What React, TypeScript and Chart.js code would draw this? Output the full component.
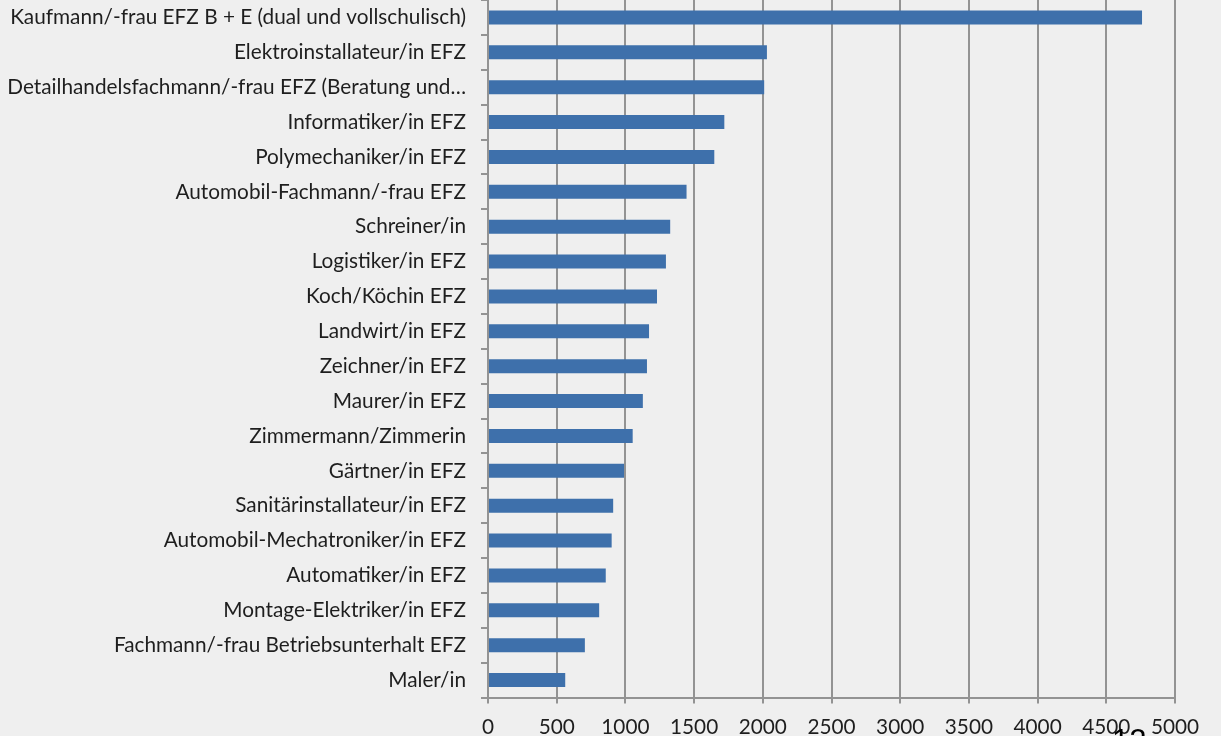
import React, { useEffect, useRef } from "react";
import { Chart, registerables } from "chart.js";

Chart.register(...registerables);

const categories: string[] = [
  "Kaufmann/-frau EFZ B + E (dual und vollschulisch)",
  "Elektroinstallateur/in EFZ",
  "Detailhandelsfachmann/-frau EFZ (Beratung und…",
  "Informatiker/in EFZ",
  "Polymechaniker/in EFZ",
  "Automobil-Fachmann/-frau EFZ",
  "Schreiner/in",
  "Logistiker/in EFZ",
  "Koch/Köchin EFZ",
  "Landwirt/in EFZ",
  "Zeichner/in EFZ",
  "Maurer/in EFZ",
  "Zimmermann/Zimmerin",
  "Gärtner/in EFZ",
  "Sanitärinstallateur/in EFZ",
  "Automobil-Mechatroniker/in EFZ",
  "Automatiker/in EFZ",
  "Montage-Elektriker/in EFZ",
  "Fachmann/-frau Betriebsunterhalt EFZ",
  "Maler/in",
];

const values: number[] = [
  4760, 2030, 2010, 1720, 1647, 1445, 1326, 1295, 1230, 1172, 1157, 1127,
  1053, 990, 911, 900, 857, 809, 705, 562,
];

const xMin = 0;
const xMax = 5000;
const xStep = 500;

const pageMark = "12";

const FONT = "Lato, 'Noto Sans', sans-serif";

function fitFontSize(text: string, target: number): number {
  const c = document.createElement("canvas").getContext("2d");
  if (!c) return 20;
  c.font = `100px ${FONT}`;
  const w = c.measureText(text).width;
  return (100 * target) / w;
}

export default function App() {
  const ref = useRef<HTMLCanvasElement | null>(null);

  useEffect(() => {
    if (!ref.current) return;
    const size = fitFontSize(categories[0], 456);
    const gridColor = "#939393";
    const chart = new Chart(ref.current, {
      type: "bar",
      data: {
        labels: categories,
        datasets: [
          {
            data: values,
            backgroundColor: "#3e70ab",
            borderWidth: 0,
            barPercentage: 0.4,
            categoryPercentage: 1,
          },
        ],
      },
      options: {
        indexAxis: "y",
        animation: false,
        responsive: true,
        maintainAspectRatio: false,
        layout: { padding: { left: 0, right: 46, top: 0, bottom: 0 } },
        plugins: {
          legend: { display: false },
          tooltip: { enabled: false },
        },
        scales: {
          x: {
            min: xMin,
            max: xMax,
            ticks: {
              stepSize: xStep,
              color: "#1e1e1e",
              font: { family: FONT, size: size },
              padding: 11,
              maxRotation: 0,
              callback: (v: any) => String(v),
            },
            grid: {
              color: gridColor,
              lineWidth: 2,
              tickLength: 6,
            },
            border: { color: gridColor, width: 2 },
            afterFit: (s: any) => {
              s.height = 38.5;
            },
          },
          y: {
            ticks: {
              color: "#1e1e1e",
              font: { family: FONT, size: size },
              padding: 15,
              autoSkip: false,
            },
            grid: {
              color: gridColor,
              lineWidth: 2,
              drawOnChartArea: false,
              drawTicks: true,
              tickLength: 7,
            },
            border: { color: gridColor, width: 2 },
            afterFit: (s: any) => {
              s.width = 488;
              s.paddingTop = 0;
              s.paddingBottom = 0;
            },
          },
        },
      },
    });
    return () => chart.destroy();
  }, []);

  return (
    <div
      style={{
        position: "fixed",
        left: 0,
        top: 0,
        width: 1221,
        height: 736,
        overflow: "hidden",
        background: "#efefef",
      }}
    >
      <div style={{ position: "absolute", left: 0, top: 0, width: 1221, height: 736 }}>
        <canvas ref={ref} />
      </div>
      <div
        style={{
          position: "absolute",
          left: 1112,
          top: 725,
          fontFamily: "'Liberation Sans', Arial, sans-serif",
          fontSize: 31,
          lineHeight: 1,
          color: "#000",
          zIndex: 2,
        }}
      >
        {pageMark}
      </div>
    </div>
  );
}
